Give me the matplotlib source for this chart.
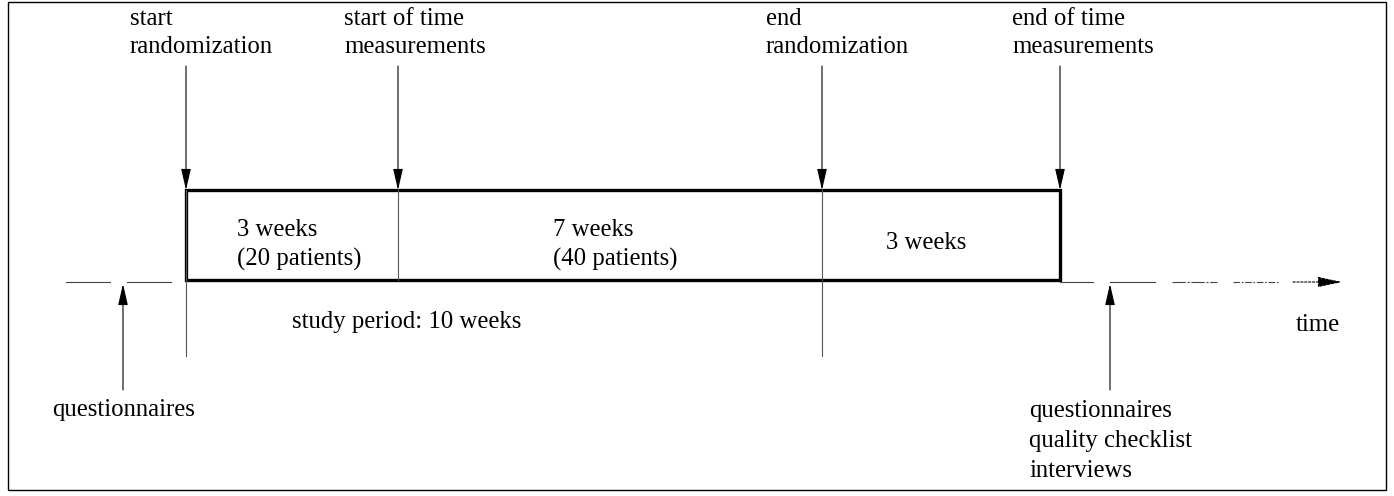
import matplotlib.pyplot as plt
from matplotlib.patches import Rectangle

plt.rcParams['font.family'] = ['Liberation Serif', 'DejaVu Serif']

# milestones along the top, phases inside the study box
milestones = ["start\nrandomization", "start of time\nmeasurements",
              "end\nrandomization", "end of time\nmeasurements"]
phase_weeks = [3, 7, 3]
phase_patients = [20, 40, None]
study_weeks = 10
before_label = "questionnaires"
after_label = "questionnaires\nquality checklist\ninterviews"

# layout (pixels, diagram is not to scale)
mx = [186, 398, 822, 1060]
label_x = [130, 344, 766, 1012]
phase_x = [237, 553, 886]
box_top, box_bot = 190, 280
line_y = 282
fs = 17.8

fig = plt.figure(figsize=(13.94, 4.96), dpi=100)
ax = fig.add_axes([0, 0, 1, 1])
ax.set_xlim(0, 1394)
ax.set_ylim(496, 0)
ax.axis('off')

# outer frame
ax.add_patch(Rectangle((8, 2), 1378, 488, fill=False, lw=1.0, ec='black'))

arrow = dict(arrowstyle='-|>,head_length=1.3,head_width=0.3', color='black',
             lw=0.8, shrinkA=0, shrinkB=0)

# milestone labels and down arrows
for lab, x, lx in zip(milestones, mx, label_x):
    ax.text(lx, 53, lab, fontsize=fs, ha='left', va='baseline', linespacing=1.35)
    ax.annotate('', xy=(x, box_top), xytext=(x, 66), arrowprops=arrow)

# thin lines continuing through/below the box
ax.plot([mx[0], mx[0]], [box_top, 356], color='#555555', lw=0.8)
ax.plot([mx[1], mx[1]], [box_top, box_bot], color='#555555', lw=0.8)
ax.plot([mx[2], mx[2]], [box_top, 356], color='#555555', lw=0.8)

# study box
ax.add_patch(Rectangle((mx[0], box_top), mx[3] - mx[0], box_bot - box_top,
                       fill=False, lw=2.4, ec='black'))

# phase texts
for w, p, x in zip(phase_weeks, phase_patients, phase_x):
    if p is None:
        ax.text(x, 243, f"{w} weeks", fontsize=fs, ha='left', va='center')
    else:
        ax.text(x, 245, f"{w} weeks\n({p} patients)", fontsize=fs, ha='left',
                va='center', linespacing=1.4)

ax.text(292, 322, f"study period: {study_weeks} weeks", fontsize=fs,
        ha='left', va='center')
ax.text(1296, 325, "time", fontsize=fs, ha='left', va='center')

# time axis segments
ax.plot([66, 110], [line_y, line_y], color='#444444', lw=0.8)
ax.plot([127, 171], [line_y, line_y], color='#444444', lw=0.8)
ax.plot([1060, 1093], [line_y, line_y], color='#444444', lw=0.8)
ax.plot([1110, 1155], [line_y, line_y], color='#444444', lw=0.8)
ax.plot([1172, 1217], [line_y, line_y], color='#444444', lw=0.8,
        ls=(0, (12, 1.5, 2, 1.5)))
ax.plot([1233, 1278], [line_y, line_y], color='#444444', lw=0.8,
        ls=(0, (6, 1.5, 1.5, 1.5)))
ax.annotate('', xy=(1342, line_y), xytext=(1293, line_y),
            arrowprops=dict(arrowstyle='-|>,head_length=1.5,head_width=0.32',
                            color='black', lw=0.8, ls=(0, (2, 1.5)),
                            shrinkA=0, shrinkB=0))

# questionnaire arrows
ax.annotate('', xy=(123, line_y + 2), xytext=(123, 390), arrowprops=arrow)
ax.annotate('', xy=(1110, line_y + 2), xytext=(1110, 390), arrowprops=arrow)
ax.text(52, 410, before_label, fontsize=fs, ha='left', va='center')
ax.text(1029, 441, after_label, fontsize=fs, ha='left', va='center',
        linespacing=1.45)

fig.savefig('out.png', dpi=100)
